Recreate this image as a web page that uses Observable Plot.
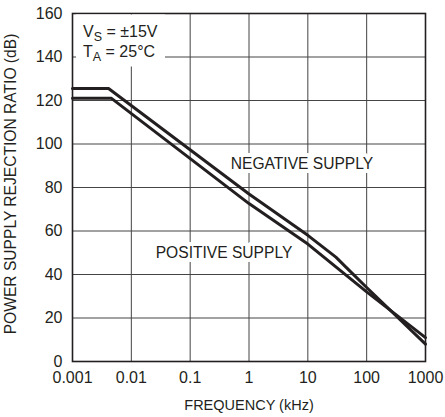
<!DOCTYPE html>
<html><head><meta charset="utf-8">
<script src="https://cdn.jsdelivr.net/npm/d3@7"></script>
<script src="https://cdn.jsdelivr.net/npm/@observablehq/plot@0.6"></script>
<style>
body{margin:0;background:#fff}
#chart svg{display:block}
</style>
</head><body><div id="chart"></div>
<script>
// Data
const negFreq = [0.001, 0.0041, 1, 10, 30, 50, 100, 1000];
const negPSRR = [125.5, 125.5, 77, 58, 48, 42, 34, 8];
const posFreq = [0.001, 0.0046, 1, 10, 100, 1000];
const posPSRR = [121, 121, 72.6, 54, 32, 11];
const xTicks = [0.001, 0.01, 0.1, 1, 10, 100, 1000];
const xTickLabels = ["0.001", "0.01", "0.1", "1", "10", "100", "1000"];
const yTicks = [0, 20, 40, 60, 80, 100, 120, 140, 160];
const seriesLabels = ["NEGATIVE SUPPLY", "POSITIVE SUPPLY"];
const labelFreq = [7.95, 0.376];
const labelValue = [90.6, 49.7];
const xTitle = "FREQUENCY (kHz)";
const yTitle = "POWER SUPPLY REJECTION RATIO (dB)";

const FONT = "'Liberation Sans',Arial,Helvetica,sans-serif";
const neg = negFreq.map((f, i) => ({f, v: negPSRR[i]}));
const pos = posFreq.map((f, i) => ({f, v: posPSRR[i]}));
const labels = seriesLabels.map((t, i) => ({t, f: labelFreq[i], v: labelValue[i]}));

const plot = Plot.plot({
  width: 445, height: 417,
  marginLeft: 72, marginRight: 20, marginTop: 13, marginBottom: 56,
  style: {fontFamily: FONT, fontSize: "16px", color: "#231f20", background: "#fff"},
  x: {type: "log", domain: [0.001, 1000]},
  y: {domain: [0, 160]},
  marks: [
    Plot.gridX(xTicks, {stroke: "#444", strokeOpacity: 1, strokeWidth: 1}),
    Plot.gridY(yTicks, {stroke: "#444", strokeOpacity: 1, strokeWidth: 1}),
    Plot.frame({stroke: "#231f20", strokeWidth: 1.6}),
    Plot.line(pos, {x: "f", y: "v", stroke: "#231f20", strokeWidth: 3}),
    Plot.line(neg, {x: "f", y: "v", stroke: "#231f20", strokeWidth: 3}),
    Plot.text(labels, {x: "f", y: "v", text: "t", fill: "#231f20", stroke: "white", strokeWidth: 8, fontSize: 15.6}),
    Plot.axisX(xTicks, {tickSize: 0, tickPadding: 10, tickFormat: d => xTickLabels[xTicks.indexOf(d)], label: null, fontSize: 16}),
    Plot.axisY(yTicks, {tickSize: 0, tickPadding: 10, label: null, fontSize: 16}),
    Plot.text([xTitle], {frameAnchor: "bottom", lineAnchor: "middle", textAnchor: "middle", dy: 44, fontSize: 14.5, fill: "#231f20"}),
    Plot.text([yTitle], {frameAnchor: "left", textAnchor: "middle", lineAnchor: "middle", rotate: -90, dx: -61.5, dy: -3.5, fontSize: 15.6, fill: "#231f20"})
  ]
});
document.getElementById("chart").appendChild(plot);

// Conditions annotation box with subscripts
const xs = plot.scale("x"), ys = plot.scale("y");
const frameLeft = xs.apply(xTicks[0]);
const frameTop = ys.apply(yTicks[yTicks.length - 1]);
const g = d3.select(plot).append("g").attr("font-family", FONT).attr("fill", "#231f20").attr("text-anchor", "start");
g.append("rect").attr("x", frameLeft + 4).attr("y", frameTop + 1.5).attr("width", 89).attr("height", 52).attr("fill", "white");
const condLines = [["V", "S", " = ±15V"], ["T", "A", " = 25°C"]];
condLines.forEach((ln, i) => {
  const t = g.append("text").attr("x", frameLeft + 11).attr("y", frameTop + 24 + i * 20).attr("font-size", 16);
  t.append("tspan").text(ln[0]);
  t.append("tspan").attr("dy", 4).attr("font-size", 12.5).text(ln[1]);
  t.append("tspan").attr("dy", -4).text(ln[2]);
});
</script>
</body></html>
